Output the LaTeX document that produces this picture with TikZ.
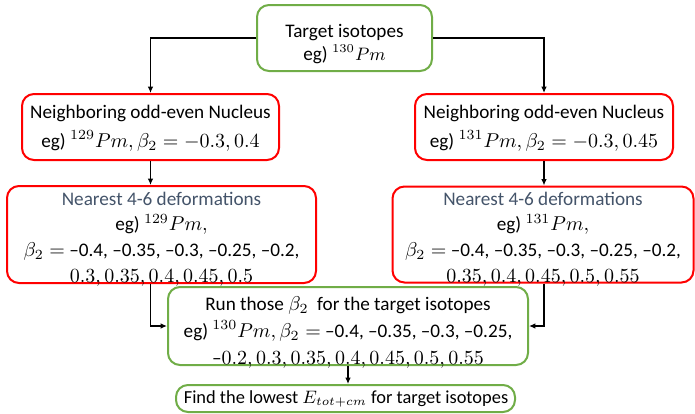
\documentclass[tikz,border=0pt]{standalone}
\usepackage{fontspec}
\setmainfont{Carlito}
\usetikzlibrary{arrows.meta,calc}
\definecolor{boxgreen}{HTML}{70AD47}
\definecolor{boxred}{HTML}{FF0000}
\definecolor{slate}{HTML}{44546A}
\newcommand{\Pmiso}[1]{${}^{#1}Pm$}
\begin{document}
\begin{tikzpicture}[x=0.5pt,y=-0.5pt,
  box/.style={draw,line width=1pt,rounded corners=6pt,fill=white,inner sep=0pt},
  gbox/.style={box,draw=boxgreen},
  rbox/.style={box,draw=boxred},
  txt/.style={align=center,inner sep=0pt,font=\fontsize{9.6}{13.5}\selectfont},
  conn/.style={draw=black,line width=0.75pt,-{Latex[length=3.2pt,width=2.8pt]}}]
\useasboundingbox (0,0) rectangle (695,413);

% boxes
\node[gbox,minimum width=87.5pt,minimum height=33pt] (target) at (344.5,38) {};
\node[rbox,minimum width=128.5pt,minimum height=33pt] (l1) at (150.5,127) {};
\node[rbox,minimum width=129pt,minimum height=33pt] (r1) at (544,127) {};
\node[rbox,minimum width=154.5pt,minimum height=48.5pt] (l2) at (161.5,234.5) {};
\node[rbox,minimum width=150.5pt,minimum height=48pt] (r2) at (543,234.5) {};
\node[gbox,minimum width=180pt,minimum height=39pt] (b3) at (348,326) {};
\node[gbox,minimum width=169.5pt,minimum height=13.5pt] (b4) at (345.5,398.5) {};

% texts
\node[txt,font=\fontsize{9.6}{11.5}\selectfont] (targett) at (344.5,44) {Target isotopes\\eg) {\small\Pmiso{130}}};
\node[txt,font=\fontsize{9.6}{14.5}\selectfont] (l1t) at (150.5,128) {Neighboring odd-even Nucleus\\eg) \Pmiso{129}$,\beta_2=-0.3,0.4$};
\node[txt,font=\fontsize{9.6}{14.5}\selectfont] (r1t) at (544,128) {Neighboring odd-even Nucleus\\eg) \Pmiso{131}$,\beta_2=-0.3,0.45$};
\node[txt,font=\fontsize{9.6}{12.8}\selectfont] (l2t) at (161.5,239) {\textcolor{slate}{Nearest 4-6 deformations}\\eg) \Pmiso{129}$,$\\$\beta_2=$ –0.4, –0.35, –0.3, –0.25, –0.2,\\$0.3, 0.35, 0.4, 0.45, 0.5$};
\node[txt,font=\fontsize{9.6}{12.8}\selectfont] (r2t) at (543,239) {\textcolor{slate}{Nearest 4-6 deformations}\\eg) \Pmiso{131}$,$\\$\beta_2=$ –0.4, –0.35, –0.3, –0.25, –0.2,\\$0.35, 0.4, 0.45, 0.5, 0.55$};
\node[txt,font=\fontsize{9.6}{13.5}\selectfont] (b3t) at (348,332) {Run those $\beta_2$\ \ for the target isotopes\\eg) \Pmiso{130}$,\beta_2=$ –0.4, –0.35, –0.3, –0.25,\\–$0.2, 0.3, 0.35, 0.4, 0.45, 0.5, 0.55$};
\node[txt,font=\fontsize{9.2}{12}\selectfont] (b4t) at (346,399) {Find the lowest $E_{tot+cm}$ for target isotopes};

% connectors
\draw[conn] (target.west) -| (l1.north);
\draw[conn] (target.east) -| (r1.north);
\draw[conn] (l1.south) -- (l1.south |- l2.north);
\draw[conn] (r1.south) -- (r1.south |- r2.north);
\draw[conn] (l1.south |- l2.south) |- (b3.west);
\draw[conn] (r1.south |- r2.south) |- (b3.east);
\draw[conn] (b3.south) -- (b3.south |- b4.north);
\end{tikzpicture}
\end{document}
